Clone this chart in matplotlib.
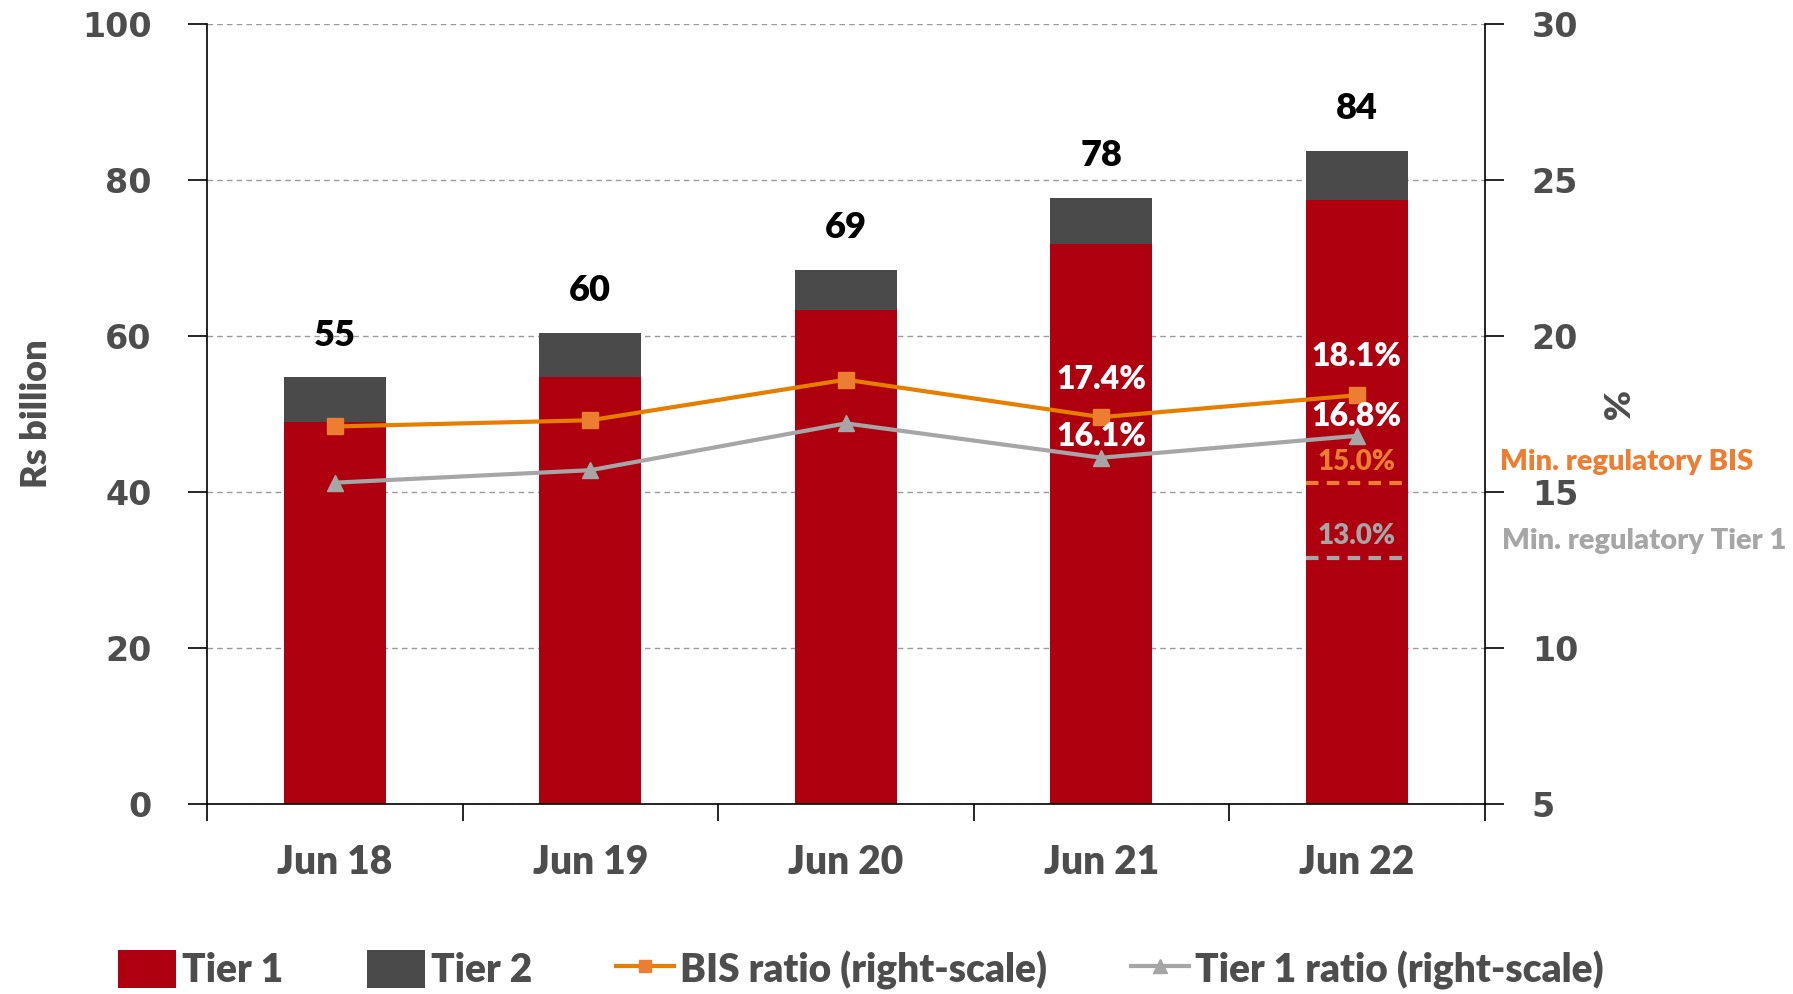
import matplotlib
matplotlib.use("Agg")
from matplotlib import pyplot as plt
from matplotlib.patches import Patch
from matplotlib.lines import Line2D
import numpy as np

periods = ["Jun 18", "Jun 19", "Jun 20", "Jun 21", "Jun 22"]
tier1 = [49.0, 54.8, 63.3, 71.8, 77.4]
tier2 = [5.7, 5.6, 5.2, 5.9, 6.3]
totals = ["55", "60", "69", "78", "84"]
bis_ratio = [17.1, 17.3, 18.6, 17.4, 18.1]
tier1_ratio = [15.3, 15.7, 17.2, 16.1, 16.8]
min_bis = 15.3
min_tier1 = 12.9

RED = "#AE000F"
DARK = "#4A4A4A"
ORANGE = "#E67E00"
ORANGE_MK = "#ED7D31"
GREY = "#A6A6A6"
TXT = "#4D4D4D"
W = "heavy"

plt.rcParams["font.family"] = ["Lato", "DejaVu Sans"]

fig = plt.figure(figsize=(17.93, 9.94), dpi=100)
ax = fig.add_axes([0.1155, 0.191, 0.7125, 0.785])
x = np.arange(len(periods))

ax.set_axisbelow(True)
ax.bar(x, tier1, width=0.4, color=RED, zorder=2)
ax.bar(x, tier2, width=0.4, bottom=tier1, color=DARK, zorder=2)
for i in range(len(x)):
    ax.text(x[i], tier1[i] + tier2[i] + 5.4, totals[i], ha="center", va="center",
            fontsize=26, fontweight=W, color="black")

ax.set_xlim(-0.5, 4.5)
ax.set_ylim(0, 100)
ax.set_yticks([0, 20, 40, 60, 80, 100])
ax.yaxis.grid(True, linestyle=(0, (4, 3)), color="#9A9A9A", linewidth=1)
ax.set_xticks(x)
ax.set_xticklabels(periods, fontsize=28, fontweight=W, color=TXT)
ax.set_xticks(np.arange(-0.5, 5.0, 1.0), minor=True)
ax.tick_params(axis="x", which="major", length=0, pad=29)
ax.tick_params(axis="x", which="minor", length=12, direction="out", width=1.2)
ax.tick_params(axis="y", length=14, width=1.2, pad=26, labelsize=24, labelcolor=TXT)
for lab in ax.get_yticklabels():
    lab.set_family("DejaVu Sans")
    lab.set_fontweight("bold")
ax.set_ylabel("Rs billion", fontsize=26, fontweight=W, color=TXT)
ax.yaxis.set_label_coords(-0.121, 0.5)
for s in ["top", "right"]:
    ax.spines[s].set_visible(False)
ax.spines["left"].set_linewidth(1.2)
ax.spines["bottom"].set_linewidth(1.2)

ax2 = ax.twinx()
ax2.set_ylim(5, 30)
ax2.set_yticks([5, 10, 15, 20, 25, 30])
ax2.plot(x, bis_ratio, color=ORANGE, linewidth=3, marker="s", markersize=11,
         markerfacecolor=ORANGE_MK, markeredgecolor=ORANGE_MK, zorder=3)
ax2.plot(x, tier1_ratio, color=GREY, linewidth=3, marker="^", markersize=12,
         markerfacecolor=GREY, markeredgecolor=GREY, zorder=3)
ax2.plot([x[4] - 0.2, x[4] + 0.2], [min_bis, min_bis], color=ORANGE_MK,
         linewidth=3, linestyle=(0, (3, 2)))
ax2.plot([x[4] - 0.2, x[4] + 0.2], [min_tier1, min_tier1], color=GREY,
         linewidth=3, linestyle=(0, (3, 2)))

ax2.text(3, 18.6, "17.4%", ha="center", va="center", fontsize=23, fontweight=W, color="white")
ax2.text(3, 16.77, "16.1%", ha="center", va="center", fontsize=23, fontweight=W, color="white")
ax2.text(4, 19.33, "18.1%", ha="center", va="center", fontsize=23, fontweight=W, color="white")
ax2.text(4, 17.43, "16.8%", ha="center", va="center", fontsize=23, fontweight=W, color="white")
ax2.text(4, 15.96, "15.0%", ha="center", va="center", fontsize=20, fontweight=W, color=ORANGE_MK)
ax2.text(4, 13.6, "13.0%", ha="center", va="center", fontsize=20, fontweight=W, color=GREY)
ax2.text(4.56, 15.96, "Min. regulatory BIS", ha="left", va="center", fontsize=21,
         fontweight=W, color=ORANGE_MK, clip_on=False)
ax2.text(4.57, 13.43, "Min. regulatory Tier 1", ha="left", va="center", fontsize=21,
         fontweight=W, color=GREY, clip_on=False)

ax2.tick_params(axis="y", length=14, width=1.2, pad=20, labelsize=24, labelcolor=TXT)
for lab in ax2.get_yticklabels():
    lab.set_family("DejaVu Sans")
    lab.set_fontweight("bold")
ax2.set_ylabel("%", fontsize=26, fontweight=W, color=TXT, rotation=-90)
ax2.yaxis.set_label_coords(1.113, 0.51)
for s in ["top", "left", "bottom"]:
    ax2.spines[s].set_visible(False)
ax2.spines["right"].set_linewidth(1.2)

handles = [
    Patch(facecolor=RED),
    Patch(facecolor=DARK),
    Line2D([], [], color=ORANGE, linewidth=3, marker="s", markersize=9,
           markerfacecolor=ORANGE_MK, markeredgecolor=ORANGE_MK),
    Line2D([], [], color=GREY, linewidth=3, marker="^", markersize=10,
           markerfacecolor=GREY, markeredgecolor=GREY),
]
labels = ["Tier 1", "Tier 2", "BIS ratio (right-scale)", "Tier 1 ratio (right-scale)"]
fig.legend(handles, labels, loc="center", bbox_to_anchor=(0.48, 0.024), ncol=4,
           frameon=False, handlelength=1.5, handleheight=1.1, handletextpad=0.15,
           columnspacing=2.15, prop={"size": 28, "weight": W}, labelcolor=TXT)

fig.savefig("out.png", dpi=100)
